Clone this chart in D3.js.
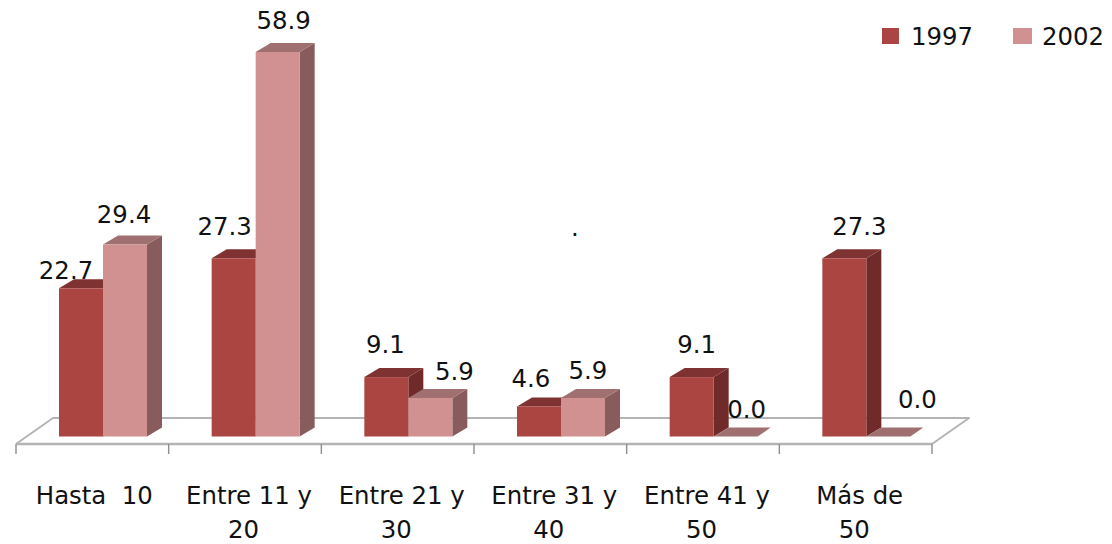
<!DOCTYPE html>
<html><head><meta charset="utf-8">
<script src="https://cdnjs.cloudflare.com/ajax/libs/d3/7.8.5/d3.min.js"></script>
<style>html,body{margin:0;padding:0;background:#fff}svg{display:block}text{font-family:"DejaVu Sans",sans-serif;font-size:24.4px;fill:#111}</style>
</head><body><svg id="c" width="1112" height="544"></svg>
<script>
const categories=[["Hasta  10"],["Entre 11 y","20"],["Entre 21 y","30"],["Entre 31 y","40"],["Entre 41 y","50"],["Más de","50"]];
const seriesNames=["1997","2002"];
const values1997=[22.7,27.3,9.1,4.6,9.1,27.3];
const values2002=[29.4,58.9,5.9,5.9,0.0,0.0];
// label offsets from the default position above each bar (manual placement in the source chart)
const nudge1997=[[-15,-9],[-9,-23],[-1,-24],[-8,-19],[5,-24],[15,-23]];
const nudge2002=[[-1,-22],[6,-23],[24,-18],[5,-19],[11,-19],[29,-29]];

const svg=d3.select("#c");
const defs=svg.append("defs");
defs.append("filter").attr("id","soft").attr("x","-5%").attr("y","-5%").attr("width","110%").attr("height","110%")
  .append("feGaussianBlur").attr("stdDeviation",0.5);
const palette=[{front:"#aa4543",top:"#7f3331",side:"#6f2c2a"},{front:"#d09190",top:"#a07070",side:"#885c5c"}];
const x=d3.scaleBand().domain(d3.range(categories.length)).range([16,932]);
const y=d3.scaleLinear().domain([0,58.9]).range([436.5,52]);
const barW=44,dx=15,dy=9,barInset=43;
const floorF=444,floorB=418,depthX=37;
const line=d3.line();
const chart=svg.append("g");
const grid="#b4b4b4";
// floor
chart.append("path").attr("d",line([[16,floorF],[16+depthX,floorB],[932+depthX,floorB],[932,floorF],[16,floorF]]))
  .attr("fill","#fff").attr("stroke",grid).attr("stroke-width",2).attr("stroke-linejoin","round");
chart.append("line").attr("x1",16).attr("x2",932).attr("y1",floorF).attr("y2",floorF).attr("stroke",grid).attr("stroke-width",2.6);
// ticks
const tickXs=[...categories.map((_,i)=>x(i)),x.range()[1]];
chart.selectAll("line.t").data(tickXs).join("line").attr("class","t")
  .attr("x1",d=>d).attr("x2",d=>d).attr("y1",floorF).attr("y2",454).attr("stroke","#8e8e8e").attr("stroke-width",1.4);
// bars
const bars=svg.append("g").attr("filter","url(#soft)");
[values1997,values2002].forEach((vals,s)=>{
  vals.forEach((v,i)=>{
    const x0=x(i)+barInset+s*barW, x1=x0+barW, yT=y(v), yB=y(0), c=palette[s];
    const g=bars.append("g");
    if(v>0){
      g.append("path").attr("d",line([[x1,yT],[x1+dx,yT-dy],[x1+dx,yB-dy],[x1,yB]])+"Z").attr("fill",c.side);
      g.append("path").attr("d",line([[x0,yT],[x0+dx,yT-dy],[x1+dx,yT-dy],[x1,yT]])+"Z").attr("fill",c.top);
      g.append("rect").attr("x",x0).attr("y",yT).attr("width",barW).attr("height",yB-yT).attr("fill",c.front);
    } else {
      g.append("path").attr("d",line([[x0,yB],[x0+dx,yB-dy],[x1+dx-2,yB-dy],[x1,yB]])+"Z").attr("fill",c.top);
    }
  });
});
// value labels
[[values1997,nudge1997],[values2002,nudge2002]].forEach(([vals,n],s)=>{
  svg.append("g").selectAll("text").data(vals).join("text")
    .attr("text-anchor","middle")
    .attr("x",(d,i)=>x(i)+barInset+s*barW+barW/2+n[i][0])
    .attr("y",(d,i)=>y(d)+n[i][1]).text(d=>d.toFixed(1));
});
svg.append("text").attr("x",575).attr("y",236).attr("text-anchor","middle").text(".");
// category labels
const cat=svg.append("g").selectAll("g").data(categories).join("g");
cat.each(function(lines,i){
  const c=x(i)+x.bandwidth()/2;
  d3.select(this).selectAll("text").data(lines).join("text").attr("text-anchor","middle")
   .attr("xml:space","preserve").style("white-space","pre")
   .attr("x",(d,j)=>c+(j===0?(i===0?2:4):-1.5)).attr("y",(d,j)=>504+j*34).text(d=>d);
});
// legend
const lg=svg.append("g");
const legendX=[882,1013];
const legendW=[17,19];
seriesNames.forEach((nm,s)=>{
  lg.append("rect").attr("x",legendX[s]).attr("y",28).attr("width",legendW[s]).attr("height",16).attr("fill",palette[s].front);
  lg.append("text").attr("x",legendX[s]+29).attr("y",44.5).text(nm);
});
</script></body></html>
